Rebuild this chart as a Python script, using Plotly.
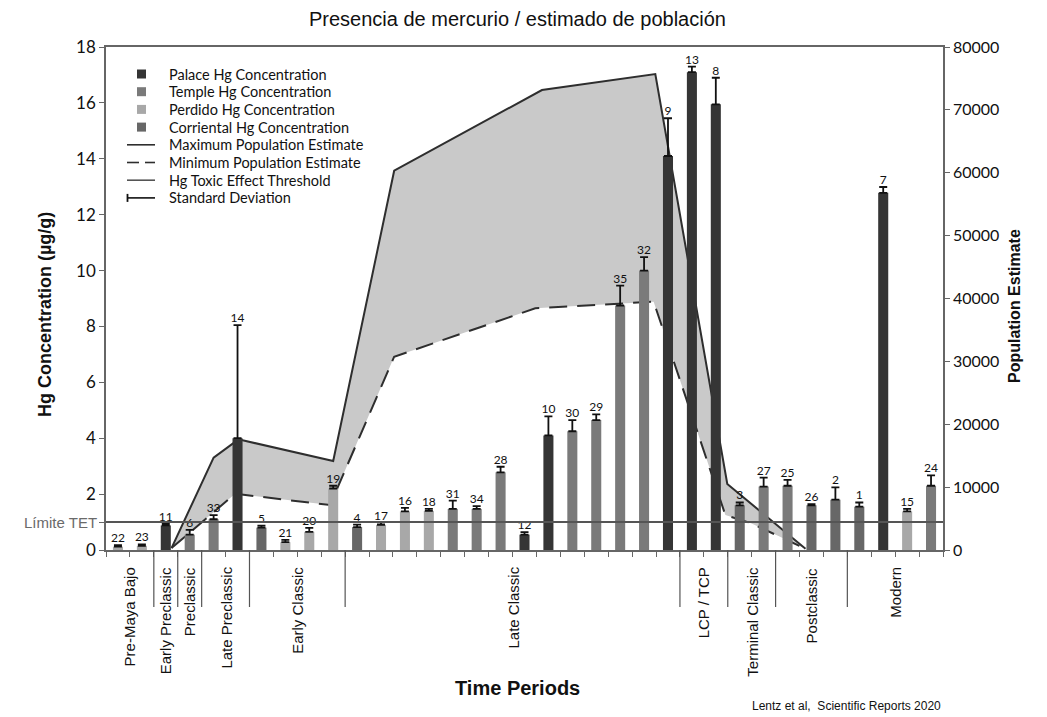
import plotly.graph_objects as go

# ---------------- data ----------------
sample_ids = ["22", "23", "11", "6", "33", "14", "5", "21", "20", "19", "4", "17", "16", "18",
              "31", "34", "28", "12", "10", "30", "29", "35", "32", "9", "13", "8", "3", "27",
              "25", "26", "2", "1", "7", "15", "24"]
sample_site = ["Perdido", "Perdido", "Palace", "Temple", "Temple", "Palace", "Corriental", "Perdido",
               "Perdido", "Perdido", "Corriental", "Perdido", "Perdido", "Perdido", "Temple", "Temple",
               "Temple", "Palace", "Palace", "Temple", "Temple", "Temple", "Temple", "Palace", "Palace",
               "Palace", "Corriental", "Temple", "Temple", "Corriental", "Corriental", "Corriental",
               "Palace", "Perdido", "Temple"]
hg_mean = [0.12, 0.15, 0.88, 0.55, 1.1, 4.0, 0.8, 0.28, 0.65, 2.2, 0.82, 0.9, 1.38, 1.4,
           1.47, 1.47, 2.78, 0.55, 4.1, 4.25, 4.65, 8.75, 10.0, 14.1, 17.1, 15.95, 1.6, 2.27,
           2.3, 1.6, 1.8, 1.55, 12.78, 1.38, 2.3]
hg_sd = [0.05, 0.05, 0.05, 0.17, 0.15, 4.05, 0.07, 0.08, 0.14, 0.1, 0.09, 0.08, 0.13, 0.07,
         0.3, 0.1, 0.2, 0.09, 0.68, 0.4, 0.2, 0.71, 0.48, 1.35, 0.2, 0.95, 0.1, 0.32,
         0.21, 0.04, 0.44, 0.15, 0.21, 0.09, 0.37]

site_names = ["Palace", "Temple", "Perdido", "Corriental"]
site_colors = {"Palace": "#353535", "Temple": "#7a7a7a", "Perdido": "#a8a8a8", "Corriental": "#676767"}

tet_threshold = 1.0

# population estimates, positioned on the sample (slot) axis
pop_max_pos = [2.24, 4.0, 5.04, 9.0, 11.55, 17.73, 22.47, 25.48, 28.75]
pop_max_val = [300, 14700, 17600, 14150, 60330, 73160, 75700, 10500, 200]
pop_min_pos = [2.24, 4.9, 8.87, 11.55, 17.45, 22.4, 25.4, 26.45, 28.75]
pop_min_val = [300, 8950, 7150, 30740, 38440, 39490, 5560, 4300, 200]

period_names = ["Pre-Maya Bajo", "Early Preclassic", "Preclassic", "Late Preclassic", "Early Classic",
                "Late Classic", "LCP / TCP", "Terminal Classic", "Postclassic", "Modern"]
period_start = [0, 2, 3, 4, 6, 10, 24, 26, 28, 31]
period_end = [2, 3, 4, 6, 10, 24, 26, 28, 31, 35]

legend_items = ["Palace Hg Concentration", "Temple Hg Concentration", "Perdido Hg Concentration",
                "Corriental Hg Concentration", "Maximum Population Estimate",
                "Minimum Population Estimate", "Hg Toxic Effect Threshold", "Standard Deviation"]

# ---------------- layout geometry ----------------
OFF = 8  # page body margin
W, H = 1047 - OFF, 717 - OFF
ML, MT = 106 - OFF, 47 - OFF
PW, PH = 837, 503
MR, MB = W - ML - PW, H - MT - PH


def px(xr):
    # reference-screen x -> paper
    return (xr - OFF - ML) / PW


def py(yr):
    # reference-screen y -> paper
    return (MT + PH - (yr - OFF)) / PH


CAL = "Lato, 'Open Sans', sans-serif"
ARI = "'Liberation Sans', Arial, sans-serif"
INK = "#111111"

fig = go.Figure()

# population band (base axis y, right side)
fig.add_trace(go.Scatter(
    x=pop_max_pos + pop_min_pos[::-1], y=pop_max_val + pop_min_val[::-1],
    fill="toself", fillcolor="#c9c9c9", line=dict(width=0), mode="lines",
    hoverinfo="skip", showlegend=False, yaxis="y"))
fig.add_trace(go.Scatter(x=pop_max_pos, y=pop_max_val, mode="lines",
                         line=dict(color="#2e2e2e", width=2), showlegend=False, yaxis="y"))
fig.add_trace(go.Scatter(x=pop_min_pos, y=pop_min_val, mode="lines",
                         line=dict(color="#2e2e2e", width=2, dash="18px,10px"),
                         showlegend=False, yaxis="y"))

# bars (overlay axis y2, left side)
positions = list(range(len(sample_ids)))
for s in site_names:
    idx = [i for i, v in enumerate(sample_site) if v == s]
    fig.add_trace(go.Bar(
        x=[positions[i] for i in idx], y=[hg_mean[i] for i in idx],
        width=0.42, marker=dict(color=site_colors[s], line=dict(width=0)),
        error_y=dict(type="data", symmetric=False, array=[hg_sd[i] for i in idx],
                     arrayminus=[0] * len(idx), color=INK, thickness=1.8, width=4),
        name=s + " Hg Concentration", showlegend=False, yaxis="y2"))

# sample number labels
fig.add_trace(go.Scatter(
    x=positions, y=[m + s for m, s in zip(hg_mean, hg_sd)], mode="text",
    text=sample_ids, textposition="top center",
    textfont=dict(family=CAL, size=12, color=INK),
    showlegend=False, hoverinfo="skip", yaxis="y2", cliponaxis=False))

shapes = []
annotations = []

# toxic threshold line
shapes.append(dict(type="line", xref="paper", x0=0, x1=1, yref="y2", y0=tet_threshold, y1=tet_threshold,
                   line=dict(color="#555555", width=2), layer="above"))
annotations.append(dict(text="Límite TET", xref="paper", x=px(99), yref="y2", y=tet_threshold,
                        xanchor="right", yanchor="middle", showarrow=False,
                        font=dict(family=ARI, size=15, color="#6a6a6a")))

# period separators and labels
for name, a, b in zip(period_names, period_start, period_end):
    if a > 0:
        shapes.append(dict(type="line", xref="x", x0=a - 0.5, x1=a - 0.5, yref="paper",
                           y0=0, y1=py(607), line=dict(color="#555555", width=1.2)))
    annotations.append(dict(text=name, xref="x", x=(a + b) / 2 - 0.5, yref="paper", y=py(565),
                            textangle=-90, xanchor="center", yanchor="top", showarrow=False,
                            font=dict(family=ARI, size=15, color=INK)))

# custom legend
leg_y0, leg_dy = 74, 17.7
for k, label in enumerate(legend_items):
    yy = leg_y0 + k * leg_dy
    annotations.append(dict(text=label, xref="paper", yref="paper", x=px(167), y=py(yy),
                            xanchor="left", yanchor="middle", showarrow=False,
                            font=dict(family=CAL, size=14.5, color=INK)))
    if k < 4:
        col = site_colors[site_names[k]]
        shapes.append(dict(type="rect", xref="paper", yref="paper", x0=px(137), x1=px(146),
                           y0=py(yy + 4.5), y1=py(yy - 4.5), fillcolor=col, line=dict(width=0)))
    elif k == 4 or k == 6:
        col = "#2e2e2e" if k == 4 else "#555555"
        shapes.append(dict(type="line", xref="paper", yref="paper", x0=px(127), x1=px(155),
                           y0=py(yy), y1=py(yy), line=dict(color=col, width=1.6)))
    elif k == 5:
        for a, b in [(127, 139), (145, 155)]:
            shapes.append(dict(type="line", xref="paper", yref="paper", x0=px(a), x1=px(b),
                               y0=py(yy), y1=py(yy), line=dict(color="#2e2e2e", width=1.6)))
    else:
        shapes.append(dict(type="line", xref="paper", yref="paper", x0=px(127), x1=px(155),
                           y0=py(yy), y1=py(yy), line=dict(color=INK, width=1.6)))
        shapes.append(dict(type="line", xref="paper", yref="paper", x0=px(127.5), x1=px(127.5),
                           y0=py(yy - 4), y1=py(yy + 4), line=dict(color=INK, width=1.8)))

# titles and notes
annotations.append(dict(text="Presencia de mercurio / estimado de población", xref="paper", yref="paper",
                        x=px(517), y=py(19), xanchor="center", yanchor="middle", showarrow=False,
                        font=dict(family=ARI, size=20, color=INK)))
annotations.append(dict(text="<b>Hg Concentration (µg/g)</b>", xref="paper", yref="paper",
                        x=px(45), y=py(315), xanchor="center", yanchor="middle", textangle=-90,
                        showarrow=False, font=dict(family=ARI, size=18, color=INK)))
annotations.append(dict(text="<b>Population Estimate</b>", xref="paper", yref="paper",
                        x=px(1014), y=py(306), xanchor="center", yanchor="middle", textangle=-90,
                        showarrow=False, font=dict(family=ARI, size=16, color=INK)))
annotations.append(dict(text="<b>Time Periods</b>", xref="paper", yref="paper",
                        x=px(517), y=py(688), xanchor="center", yanchor="middle",
                        showarrow=False, font=dict(family=ARI, size=20, color=INK)))
annotations.append(dict(text="Lentz et al,  Scientific Reports 2020", xref="paper", yref="paper",
                        x=px(943), y=py(706), xanchor="right", yanchor="middle",
                        showarrow=False,
                        font=dict(family="'Liberation Sans Narrow', 'Liberation Sans', Arial", size=12,
                                  color=INK)))

n = len(sample_ids)
fig.update_layout(
    width=W, height=H, margin=dict(l=ML, r=MR, t=MT, b=MB, pad=0),
    paper_bgcolor="white", plot_bgcolor="white",
    barmode="overlay", showlegend=False,
    xaxis=dict(range=[-0.5, n - 0.5], tickvals=[i - 0.5 for i in range(n + 1)],
               showticklabels=False, ticks="outside", ticklen=5, tickcolor="#666666",
               showline=True, linecolor="#666666", linewidth=1.5, mirror=True,
               showgrid=False, zeroline=False),
    yaxis=dict(side="right", range=[0, 80000], tickvals=list(range(0, 80001, 10000)),
               tickformat="d",
               showgrid=False, zeroline=False, showline=True, linecolor="#666666", linewidth=1.5,
               ticks="outside", ticklen=5, tickcolor="#666666",
               tickfont=dict(family=CAL, size=16, color=INK)),
    yaxis2=dict(side="left", overlaying="y", range=[0, 18],
                tickvals=[0, 1, 2, 4, 6, 8, 10, 12, 14, 16, 18],
                ticktext=["0", "", "2", "4", "6", "8", "10", "12", "14", "16", "18"],
                showgrid=False, zeroline=False, showline=True, linecolor="#666666", linewidth=1.5,
                ticks="outside", ticklen=5, tickcolor="#666666",
                tickfont=dict(family=CAL, size=17, color=INK)),
    shapes=shapes, annotations=annotations,
)

fig.write_html("out.html")
